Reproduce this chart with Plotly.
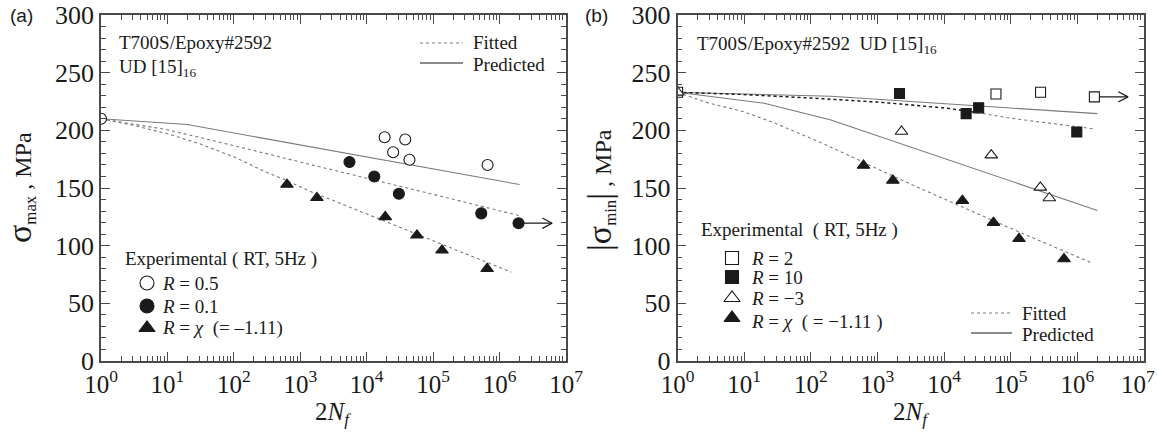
import plotly.graph_objects as go

# ---------------- data: (a) sigma_max vs 2Nf ----------------
a_r05_n = [1, 1.86e4, 2.5e4, 3.8e4, 4.4e4, 6.6e5]
a_r05_s = [210, 194, 181, 192, 174.5, 170]
a_r01_n = [5.5e3, 1.3e4, 3.05e4, 5.3e5, 1.93e6]
a_r01_s = [172.5, 160, 145, 128, 119.5]
a_chi_n = [630, 1.78e3, 1.9e4, 5.7e4, 1.36e5, 6.5e5]
a_chi_s = [153, 141.5, 125, 109, 96, 80]

a_pred_n = [1, 20, 2e6]
a_pred_s = [210, 205, 153]
a_fit01_n = [1, 3, 10, 30, 100, 300, 1e3, 3e3, 1e4, 1e5, 1e6, 2e6]
a_fit01_s = [210, 205.5, 200.5, 194, 187, 180, 172.5, 165.5, 158.5, 144.5, 130.5, 126]
a_fitchi_n = [1, 3, 10, 30, 100, 300, 620, 1.7e3, 3.2e3, 1.9e4, 5.5e4, 1.3e5, 6.3e5, 1.5e6]
a_fitchi_s = [210, 204.5, 197, 188.5, 177, 164, 156.6, 145, 139, 121, 110, 101.4, 85.6, 77]

# ---------------- data: (b) |sigma_min| vs 2Nf ----------------
b_r2_n = [1, 6.0e4, 2.8e5, 1.8e6]
b_r2_s = [233, 231.5, 233, 229]
b_r10_n = [2.14e3, 2.14e4, 3.3e4, 9.8e5]
b_r10_s = [232, 214.5, 219.5, 198.5]
b_rm3_n = [1, 2.29e3, 5.1e4, 2.78e5, 3.8e5]
b_rm3_s = [233, 199, 178.5, 150.5, 141.3]
b_chi_n = [617, 1.7e3, 1.88e4, 5.5e4, 1.33e5, 6.3e5]
b_chi_s = [169.5, 156.6, 139, 120, 106, 88.5]

b_pred2_n = [1, 200, 2e6]
b_pred2_s = [233, 229.5, 214.5]
b_predm3_n = [1, 20, 200, 2e6]
b_predm3_s = [233, 223.5, 209, 130.5]
b_fit10_n = [1, 10, 100, 1e3, 1e4, 3.2e4, 1e5, 1e6, 1.7e6]
b_fit10_s = [233, 231, 228, 224.5, 219.5, 215.3, 210.5, 203, 201.4]
b_fitchi_n = [1, 2.8, 10, 28, 160, 600, 2.7e3, 1.8e4, 1e5, 1.6e6]
b_fitchi_s = [233, 224, 216, 206.6, 188, 172.5, 155, 134, 115, 85.3]

x_tick_vals = [1, 10, 100, 1e3, 1e4, 1e5, 1e6, 1e7]
x_tick_text = ["10<sup>%d</sup>" % i for i in range(8)]
# last label of panel (b) sits at the page edge: pad it so it stays inside
x_tick_text_b = x_tick_text[:-1] + [x_tick_text[-1] + "\u2002"]

W, H = 1158, 434
SERIF = "Liberation Serif"
SANS = "Liberation Sans"
INK = "#1a1a1a"
AX = "#4a4a4a"
GRAY = "#7a7a7a"
XTICK_FONT = dict(family=SERIF, size=25, color=INK)
YTICK_FONT = dict(family=SERIF, size=26, color=INK)

# plot rectangles in pixels: left, right, top, bottom
PA = (101, 566, 15, 361)
PB = (677.6, 1144, 15, 361)

fig = go.Figure()


def line(xa, ya, n, s, dash, color=GRAY, width=1.1):
    fig.add_trace(go.Scatter(x=n, y=s, mode="lines", xaxis=xa, yaxis=ya,
                             line=dict(color=color, width=width, dash=dash),
                             hoverinfo="skip", showlegend=False))


def pts(xa, ya, n, s, symbol, fill, size):
    fig.add_trace(go.Scatter(x=n, y=s, mode="markers", xaxis=xa, yaxis=ya,
                             marker=dict(symbol=symbol, size=size, color=fill,
                                         line=dict(color=INK, width=1.1)),
                             showlegend=False))


def runout(xa, ya, n, s):
    # horizontal arrow showing a run-out specimen
    tip = n * 3.2
    line(xa, ya, [n, tip], [s, s], "solid", INK, 1.2)
    line(xa, ya, [tip / 1.4, tip, tip / 1.4], [s + 4.5, s, s - 4.5], "solid", INK, 1.2)


# ---- panel (a)
line("x", "y", a_pred_n, a_pred_s, "solid")
line("x", "y", a_fit01_n, a_fit01_s, "dot")
line("x", "y", a_fitchi_n, a_fitchi_s, "dot")
runout("x", "y", a_r01_n[-1], a_r01_s[-1])
pts("x", "y", a_r05_n, a_r05_s, "circle", "white", 11)
pts("x", "y", a_r01_n, a_r01_s, "circle", INK, 11)
pts("x", "y", a_chi_n, a_chi_s, "triangle-up", INK, 11)

# ---- panel (b)
line("x2", "y2", b_pred2_n, b_pred2_s, "solid")
line("x2", "y2", b_predm3_n, b_predm3_s, "solid")
line("x2", "y2", b_fit10_n, b_fit10_s, "dot")
dark = [(n, s) for n, s in zip(b_fit10_n, b_fit10_s) if n <= 3.2e4]
line("x2", "y2", [d[0] for d in dark], [d[1] for d in dark], "dot", INK, 1.3)
line("x2", "y2", b_fitchi_n, b_fitchi_s, "dot")
runout("x2", "y2", b_r2_n[-1], b_r2_s[-1])
pts("x2", "y2", b_r2_n, b_r2_s, "square", "white", 10)
pts("x2", "y2", b_r10_n, b_r10_s, "square", INK, 10)
pts("x2", "y2", b_rm3_n, b_rm3_s, "triangle-up", "white", 11)
pts("x2", "y2", b_chi_n, b_chi_s, "triangle-up", INK, 11)


# ---- legend keys drawn on a full-page pixel axis
def key_marker(x, y, symbol, fill, size):
    fig.add_trace(go.Scatter(x=[x], y=[y], mode="markers", xaxis="x3", yaxis="y3",
                             marker=dict(symbol=symbol, size=size, color=fill,
                                         line=dict(color=INK, width=1.1)),
                             hoverinfo="skip", showlegend=False))


def key_line(x0, x1, y, dash):
    fig.add_trace(go.Scatter(x=[x0, x1], y=[y, y], mode="lines", xaxis="x3", yaxis="y3",
                             line=dict(color=INK if dash == "solid" else GRAY, width=1.1, dash=dash),
                             hoverinfo="skip", showlegend=False))


key_marker(147, 283, "circle", "white", 14)
key_marker(147, 306, "circle", INK, 14)
key_marker(147, 328, "triangle-up", INK, 14)
key_line(420, 463, 43, "dot")
key_line(420, 463, 63, "solid")

key_marker(732, 258, "square", "white", 13)
key_marker(732, 277, "square", INK, 13)
key_marker(732, 298, "triangle-up", "white", 14)
key_marker(732, 318, "triangle-up", INK, 14)
key_line(971, 1012, 313, "dot")
key_line(971, 1012, 333, "solid")

# ---- axes
minor_vals = [k * 10 ** d for d in range(7) for k in range(2, 10)]


def xax(dom, anchor, labels):
    return dict(type="log", range=[0, 7], domain=dom, anchor=anchor, automargin=False,
                tickmode="array", tickvals=x_tick_vals, ticktext=labels,
                ticklabeloverflow="allow",
                ticks="inside", ticklen=9, tickwidth=1.1, tickcolor=AX, showline=True,
                linecolor=AX, linewidth=1.6, mirror="allticks", showgrid=False, zeroline=False,
                tickfont=XTICK_FONT,
                minor=dict(tickvals=minor_vals, ticks="inside", ticklen=5, tickwidth=1, tickcolor=AX))


def yax(dom, anchor):
    return dict(range=[0, 300], domain=dom, anchor=anchor, automargin=False, dtick=50,
                ticklabeloverflow="allow", ticks="inside", ticklen=9,
                tickwidth=1.1, tickcolor=AX, showline=True, linecolor=AX, linewidth=1.6,
                mirror="allticks", showgrid=False, zeroline=False,
                tickfont=YTICK_FONT,
                minor=dict(dtick=10, ticks="inside", ticklen=5, tickwidth=1, tickcolor=AX))


ydom = [(H - PA[3]) / H, (H - PA[2]) / H]
fig.update_layout(
    width=W, height=H, margin=dict(l=0, r=0, t=0, b=0, autoexpand=False),
    font=dict(family=SERIF, size=24, color=INK),
    paper_bgcolor="white", plot_bgcolor="rgba(0,0,0,0)", showlegend=False,
    xaxis=xax([PA[0] / W, PA[1] / W], "y", x_tick_text),
    yaxis=yax(ydom, "x"),
    xaxis2=xax([PB[0] / W, PB[1] / W], "y2", x_tick_text_b),
    yaxis2=yax(ydom, "x2"),
    xaxis3=dict(domain=[0, 1], range=[0, W], visible=False, anchor="y3", fixedrange=True),
    yaxis3=dict(domain=[0, 1], range=[H, 0], visible=False, anchor="x3", fixedrange=True),
)


def txt(x, y, s, size=19, family=SERIF, xanchor="left", angle=0):
    fig.add_annotation(x=x / W, y=1 - y / H, xref="paper", yref="paper", text=s, showarrow=False,
                       xanchor=xanchor, yanchor="middle", textangle=angle,
                       font=dict(family=family, size=size, color=INK))


# panel (a) texts
txt(8, 15, "(a)", 19, SANS)
txt(117, 42, "T700S/Epoxy#2592")
txt(117, 68, "UD [15]<sub>16</sub>")
txt(471, 43, "Fitted")
txt(471, 64, "Predicted")
txt(123, 259, "Experimental ( RT, 5Hz )")
txt(160, 283, "<i>R</i> = 0.5")
txt(160, 306, "<i>R</i> = 0.1")
txt(160, 328, "<i>R</i> = <i>χ</i>  (= –1.11)")
txt(20, 188, "<span style='font-size:34px'>σ</span><sub>max</sub> , MPa", 24, angle=-90, xanchor="center")
txt(333, 413, "2<i>N</i><sub><i>f</i></sub>", 25, xanchor="center")

# panel (b) texts
txt(583, 15, "(b)", 19, SANS)
txt(695, 45, "T700S/Epoxy#2592  UD [15]<sub>16</sub>")
txt(699, 230, "Experimental  ( RT, 5Hz )")
txt(749, 258, "<i>R</i> = 2")
txt(749, 277, "<i>R</i> = 10")
txt(749, 298, "<i>R</i> = −3")
txt(749, 322, "<i>R</i> = <i>χ</i>  ( = −1.11 )")
txt(1020, 313, "Fitted")
txt(1020, 334, "Predicted")
txt(600, 190, "<span style='font-size:34px'>|σ</span><sub>min</sub><span style='font-size:34px'>|</span> , MPa",
    24, angle=-90, xanchor="center")
txt(911, 413, "2<i>N</i><sub><i>f</i></sub>", 25, xanchor="center")

fig.write_html("out.html")
